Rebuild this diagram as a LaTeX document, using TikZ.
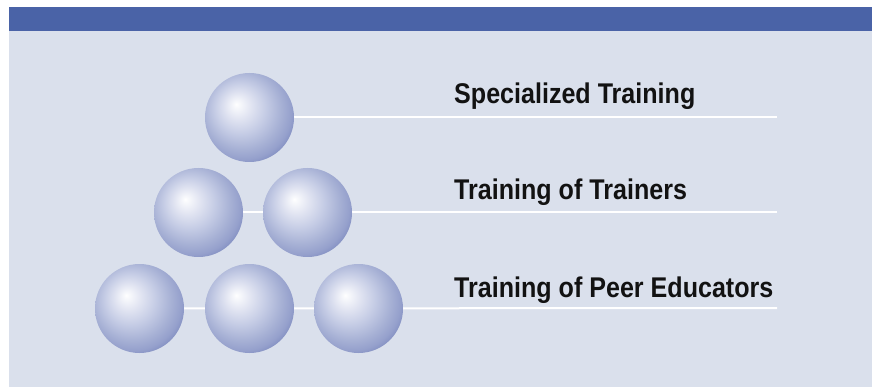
\documentclass[tikz,border=0pt]{standalone}
\usepackage{fontspec}
\setmainfont{Liberation Sans}
\newfontfamily\condfont[FakeStretch=0.88]{Liberation Sans}
\definecolor{barblue}{HTML}{4A63A7}
\definecolor{bgpanel}{HTML}{DAE0EC}
\definecolor{sphA}{HTML}{F8F9FC}
\definecolor{sphB}{HTML}{E2E5F2}
\definecolor{sphC}{HTML}{C5CCE5}
\definecolor{sphD}{HTML}{A7B1D5}
\definecolor{sphE}{HTML}{95A0CC}
\definecolor{sphF}{HTML}{5E6EAE}
\pgfdeclareradialshading{sphereshade}{\pgfpoint{-7.5bp}{7.5bp}}{%
  color(0bp)=(white);
  color(1.5bp)=(sphA);
  color(7bp)=(sphB);
  color(14.4bp)=(sphC);
  color(22bp)=(sphD);
  color(27bp)=(sphE);
  color(35.6bp)=(sphF);
  color(50bp)=(sphF)}
\tikzset{
  ballnode/.style={circle, minimum size=89pt, inner sep=0pt, shading=sphereshade},
  rule/.style={draw=white, line width=2pt},
  label/.style={anchor=base west, inner sep=0pt, font=\condfont\bfseries\fontsize{28.5pt}{31pt}\selectfont, text=black!93}
}
\begin{document}
\begin{tikzpicture}[x=1pt,y=-1pt]
\useasboundingbox (0,0) rectangle (872,387);
\fill[white] (0,0) rectangle (872,387);
\fill[bgpanel] (9,31) rectangle (872,387);
\fill[barblue] (9,7) rectangle (872,31);
% line end points
\coordinate (e1) at (777,117.5);
\coordinate (e2) at (777,212.5);
\coordinate (e3) at (777,308);
% sphere centres
\coordinate (c1) at (249.5,117.5);
\coordinate (c21) at (198.5,212.5);
\coordinate (c22) at (307.5,212.5);
\coordinate (c31) at (139.5,308.5);
\coordinate (c32) at (249.5,308.5);
\coordinate (c33) at (358.5,308.5);
% rules behind spheres
\draw[rule] (c1) -- (e1);
\draw[rule] (c21) -- (e2);
\draw[rule] (c31) -- (e3);
% spheres
\node[ballnode] (s1) at (c1) {};
\node[ballnode] (s21) at (c21) {};
\node[ballnode] (s22) at (c22) {};
\node[ballnode] (s31) at (c31) {};
\node[ballnode] (s32) at (c32) {};
\node[ballnode] (s33) at (c33) {};
% labels
\node[label] (t1) at (454,103.5) {Specialized Training};
\node[label] (t2) at (454,200) {Training of Trainers};
\node[label] (t3) at (454,297) {Training of Peer Educators};
\end{tikzpicture}
\end{document}
